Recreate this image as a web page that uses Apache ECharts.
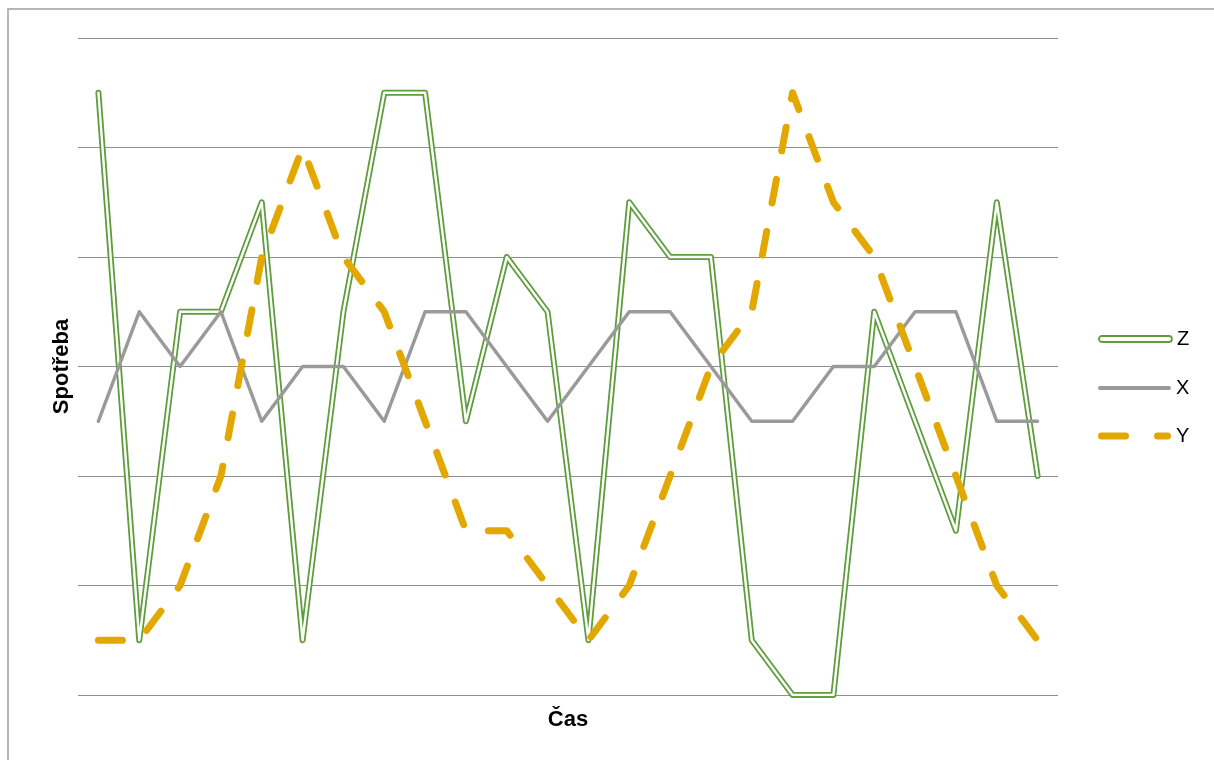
<!DOCTYPE html>
<html>
<head>
<meta charset="utf-8">
<script src="https://cdn.jsdelivr.net/npm/echarts@6/dist/echarts.min.js"></script>
<style>
html,body{margin:0;padding:0;background:#fff;}
#chart{width:1214px;height:760px;}
</style>
</head>
<body>
<div id="chart"></div>
<script>
const categories = ['1','2','3','4','5','6','7','8','9','10','11','12','13','14','15','16','17','18','19','20','21','22','23','24'];
const zValues = [5.5, 0.5, 3.5, 3.5, 4.5, 0.5, 3.5, 5.5, 5.5, 2.5, 4, 3.5, 0.5, 4.5, 4, 4, 0.5, 0, 0, 3.5, 2.5, 1.5, 4.5, 2];
const xValues = [2.5, 3.5, 3, 3.5, 2.5, 3, 3, 2.5, 3.5, 3.5, 3, 2.5, 3, 3.5, 3.5, 3, 2.5, 2.5, 3, 3, 3.5, 3.5, 2.5, 2.5];
const yValues = [0.5, 0.5, 1, 2, 4, 5, 4, 3.5, 2.5, 1.5, 1.5, 1, 0.5, 1, 2, 3, 3.5, 5.5, 4.5, 4, 3, 2, 1, 0.5];
const seriesNames = ['Z', 'X', 'Y'];
const xAxisTitle = 'Čas';
const yAxisTitle = 'Spotřeba';

const GREEN = '#5f9d3c';
const GRAY = '#9a9a9a';
const GOLD = '#e3a800';
const FONT = '"Liberation Sans", Arial, sans-serif';

const chart = echarts.init(document.getElementById('chart'), null, {renderer: 'canvas'});

const capsule = (w, h) => {
  const r = h / 2;
  return 'path://M' + r + ',0 H' + (w - r) + ' A' + r + ',' + r + ' 0 0 1 ' + (w - r) + ',' + h +
         ' H' + r + ' A' + r + ',' + r + ' 0 0 1 ' + r + ',0 Z';
};
const dashIcon = 'path://M3.5,0 H27.5 A3.5,3.5 0 0 1 27.5,7 H3.5 A3.5,3.5 0 0 1 3.5,0 Z ' +
                 'M59.5,0 H69.5 A3.5,3.5 0 0 1 69.5,7 H59.5 A3.5,3.5 0 0 1 59.5,0 Z';

const legendBase = {
  left: 1093,
  orient: 'vertical',
  itemWidth: 73,
  selectedMode: false,
  textStyle: {color: '#000', fontSize: 20, fontFamily: FONT}
};

chart.setOption({
  animation: false,
  backgroundColor: '#fff',
  graphic: [{
    type: 'rect',
    shape: {x: 8, y: 9, width: 1400, height: 1000},
    style: {fill: null, stroke: '#a0a0a0', lineWidth: 1.5},
    silent: true
  }],
  grid: {left: 78, right: 156, top: 38, bottom: 65, containLabel: false},
  legend: [
    Object.assign({}, legendBase, {
      top: 324, itemHeight: 6,
      data: [{name: seriesNames[0], icon: capsule(73, 6),
              itemStyle: {color: '#fff', borderColor: GREEN, borderWidth: 1.8}}]
    }),
    Object.assign({}, legendBase, {
      top: 373, itemHeight: 4,
      data: [{name: seriesNames[1], icon: capsule(73, 4),
              itemStyle: {color: GRAY, borderWidth: 0}}]
    }),
    Object.assign({}, legendBase, {
      top: 421, itemHeight: 7,
      data: [{name: seriesNames[2], icon: dashIcon,
              itemStyle: {color: GOLD, borderWidth: 0}}]
    })
  ],
  xAxis: {
    type: 'category',
    data: categories,
    boundaryGap: true,
    axisLine: {show: false},
    axisTick: {show: false},
    axisLabel: {show: false},
    splitLine: {show: false},
    name: xAxisTitle,
    nameLocation: 'middle',
    nameGap: 14,
    nameTextStyle: {fontSize: 22, fontWeight: 'bold', color: '#000', fontFamily: FONT}
  },
  yAxis: {
    type: 'value',
    min: 0,
    max: 6,
    interval: 1,
    axisLine: {show: false},
    axisTick: {show: false},
    axisLabel: {show: false},
    splitLine: {show: true, lineStyle: {color: '#8f8f8f', width: 1}},
    name: yAxisTitle,
    nameLocation: 'middle',
    nameGap: 5,
    nameTextStyle: {fontSize: 22, fontWeight: 'bold', color: '#000', fontFamily: FONT}
  },
  series: [
    {
      name: seriesNames[0], type: 'line', data: zValues,
      symbol: 'none', silent: true, z: 2,
      lineStyle: {color: GREEN, width: 6, join: 'round', cap: 'round'},
      itemStyle: {color: GREEN}
    },
    {
      name: 'Z-inner', type: 'line', data: zValues,
      symbol: 'none', silent: true, z: 3,
      lineStyle: {color: '#ffffff', width: 2.4, join: 'round', cap: 'round'},
      itemStyle: {color: '#fff'}
    },
    {
      name: seriesNames[1], type: 'line', data: xValues,
      symbol: 'none', silent: true, z: 4,
      lineStyle: {color: GRAY, width: 3.5, join: 'round', cap: 'round'},
      itemStyle: {color: GRAY}
    },
    {
      name: seriesNames[2], type: 'line', data: yValues,
      symbol: 'none', silent: true, z: 5,
      lineStyle: {color: GOLD, width: 7, type: [24, 29], cap: 'round', join: 'round'},
      itemStyle: {color: GOLD}
    }
  ]
});
</script>
</body>
</html>
